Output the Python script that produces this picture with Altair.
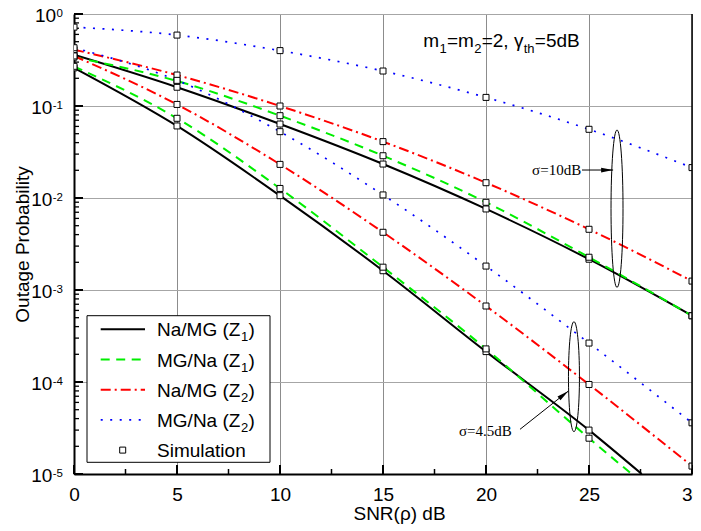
import altair as alt
import pandas as pd

# ---------------- values ----------------
SNR = [0, 5, 10, 15, 20, 25, 30]
SNR_NAMG_Z1_S45 = [0, 5, 10, 15, 20, 25, 27.56]
SNR_MGNA_Z1_S45 = [0, 5, 10, 15, 20, 25, 27.07]

# sigma = 10 dB
NAMG_Z1_S10 = [0.36, 0.16, 0.0637, 0.0234, 0.0076, 0.00216, 0.000525]
MGNA_Z1_S10 = [0.34, 0.187, 0.0785, 0.0288, 0.00898, 0.00227, 0.000525]
NAMG_Z2_S10 = [0.41, 0.217, 0.100, 0.041, 0.01466, 0.00457, 0.00125]
MGNA_Z2_S10 = [0.72, 0.59, 0.40, 0.24, 0.124, 0.0558, 0.0214]
# sigma = 4.5 dB
NAMG_Z1_S45 = [0.26, 0.0607, 0.0106, 0.00162, 0.000214, 3.0e-5, 1.0e-5]
MGNA_Z1_S45 = [0.27, 0.0735, 0.0127, 0.00177, 0.000229, 2.45e-5, 1.0e-5]
NAMG_Z2_S45 = [0.35, 0.104, 0.0232, 0.00424, 0.00067, 9.4e-5, 1.22e-5]
MGNA_Z2_S45 = [0.43, 0.19, 0.0526, 0.0108, 0.00182, 0.000265, 3.6e-5]

LEGEND_TEXT = ["Na/MG (Z", "MG/Na (Z", "Na/MG (Z", "MG/Na (Z"]
LEGEND_SUB = ["1", "1", "2", "2"]
SIM_LABEL = "Simulation"
X_TICKS = [0, 5, 10, 15, 20, 25, 30]
X_MINOR = [2.5, 7.5, 12.5, 17.5, 22.5, 27.5]
Y_EXP = [0, -1, -2, -3, -4, -5]
X_TITLE = "SNR(ρ) dB"
Y_TITLE = "Outage Probability"
NOTE_SEGMENTS = [("m", "main"), ("1", "sub"), ("=m", "main"), ("2", "sub"),
                 ("=2, γ", "main"), ("th", "sub"), ("=5dB", "main")]
SIGMA10_LABEL = "σ=10dB"
SIGMA45_LABEL = "σ=4.5dB"

# ---------------- layout / style ----------------
W, H = 618, 460
FONT = "Arial, Liberation Sans, sans-serif"
SERIF = "Times New Roman, Liberation Serif, serif"
STYLES = [
    dict(color="black", width=2.0),
    dict(color="#00ee00", width=2.0, dash=[9, 6.5]),
    dict(color="#ff0000", width=2.0, dash=[10, 4, 2, 4]),
    dict(color="#0000ff", width=1.7, dash=[2, 7.5]),
]

AW = {' ': 278, '(': 333, ')': 333, ',': 278, '-': 333, '/': 278, '=': 584,
      'B': 667, 'G': 778, 'M': 833, 'N': 722, 'Z': 611, 'a': 556, 'd': 556,
      'h': 556, 'm': 833, 't': 278, 'γ': 500}


def tw(s, size):
    return sum(AW.get(c, 556) for c in s) / 1000.0 * size


xscale = alt.Scale(domain=[0, 30], nice=False, zero=False)
yscale = alt.Scale(type="log", domain=[1e-5, 1], nice=False)

xaxis = alt.Axis(values=X_TICKS, grid=True, gridColor="#8c8c8c", gridWidth=1,
                 ticks=False, domainColor="black", domainWidth=2,
                 labelFont=FONT, labelFontSize=19, labelColor="black",
                 labelPadding=11, labelFlush=False, labelOverlap=False,
                 title=X_TITLE, titleFont=FONT, titleFontSize=19,
                 titleFontWeight="normal", titleColor="black",
                 titleX=325, titleY=45.5, titleBaseline="alphabetic", titleAlign="center")
yaxis = alt.Axis(values=[10.0 ** e for e in Y_EXP], grid=True, gridColor="#a6a6a6",
                 gridWidth=1, ticks=False, labels=False, domainColor="black",
                 domainWidth=2, title=Y_TITLE, titleFont=FONT, titleFontSize=19,
                 titleFontWeight="normal", titleColor="black", titleX=-46, titleY=230,
                 titleAngle=270, titleBaseline="alphabetic", titleAlign="center")


def X(f="x"):
    return alt.X(f"{f}:Q", scale=xscale, axis=xaxis)


def Y(f="p"):
    return alt.Y(f"{f}:Q", scale=yscale, axis=yaxis)


curves = [
    (0, "10", SNR, NAMG_Z1_S10), (0, "4.5", SNR_NAMG_Z1_S45, NAMG_Z1_S45),
    (1, "10", SNR, MGNA_Z1_S10), (1, "4.5", SNR_MGNA_Z1_S45, MGNA_Z1_S45),
    (2, "10", SNR, NAMG_Z2_S10), (2, "4.5", SNR, NAMG_Z2_S45),
    (3, "10", SNR, MGNA_Z2_S10), (3, "4.5", SNR, MGNA_Z2_S45),
]

layers = []

# inward ticks
layers.append(alt.Chart(pd.DataFrame({"x": X_TICKS})).mark_rule(color="black", strokeWidth=2)
              .encode(x=X(), y=alt.value(H), y2=alt.value(H - 9)))
layers.append(alt.Chart(pd.DataFrame({"x": X_MINOR})).mark_rule(color="black", strokeWidth=1.5)
              .encode(x=X(), y=alt.value(H), y2=alt.value(H - 5)))
layers.append(alt.Chart(pd.DataFrame({"p": [10.0 ** e for e in Y_EXP]})).mark_rule(color="black", strokeWidth=2)
              .encode(y=Y(), x=alt.value(0), x2=alt.value(9)))
ymin = [k * 10.0 ** e for e in Y_EXP[1:] for k in range(2, 10)]
layers.append(alt.Chart(pd.DataFrame({"p": ymin})).mark_rule(color="black", strokeWidth=1.3)
              .encode(y=Y(), x=alt.value(0), x2=alt.value(5)))

# curves
for si, st in enumerate(STYLES):
    rows = []
    for (s, sig, xs, ps) in curves:
        if s == si:
            rows += [{"x": a, "p": b, "sigma": sig} for a, b in zip(xs, ps)]
    kw = dict(color=st["color"], strokeWidth=st["width"], interpolate="monotone", clip=True)
    if "dash" in st:
        kw["strokeDash"] = st["dash"]
    layers.append(alt.Chart(pd.DataFrame(rows)).mark_line(**kw)
                  .encode(x=X(), y=Y(), detail="sigma:N", order="x:Q"))

# simulation squares
sim = []
for (s, sig, xs, ps) in curves:
    for a, b in zip(xs, ps):
        if a in SNR and b >= 1e-5:
            sim.append({"x": a, "p": b})
layers.append(alt.Chart(pd.DataFrame(sim)).mark_point(shape="square", size=36, filled=True,
                                                      fill="white", stroke="black", strokeWidth=1,
                                                      opacity=1, clip=True)
              .encode(x=X(), y=Y()))

# right border
layers.append(alt.Chart(pd.DataFrame({"a": [0]})).mark_rule(color="black", strokeWidth=1.5)
              .encode(x=alt.value(W), y=alt.value(0), y2=alt.value(H)))

# y tick labels 10^e
ylab = []
for e in Y_EXP:
    es = str(e)
    ew = tw(es, 11.5)
    ylab.append({"p": 10.0 ** e, "base": "10", "exp": es, "bx": -11 - ew - 0.5, "ex": -11})
ydf = pd.DataFrame(ylab)
layers.append(alt.Chart(ydf).mark_text(align="right", baseline="alphabetic", font=FONT,
                                       fontSize=19, dy=7.8, color="black")
              .encode(x=alt.X("bx:Q", scale=None, axis=None), y=Y(), text="base:N"))
layers.append(alt.Chart(ydf).mark_text(align="right", baseline="alphabetic", font=FONT,
                                       fontSize=11.5, dy=2.6, color="black")
              .encode(x=alt.X("ex:Q", scale=None, axis=None), y=Y(), text="exp:N"))

# legend
LX0, LX1, LY0, LY1 = 13, 196, 301.7, 448.3
layers.append(alt.Chart(pd.DataFrame({"a": [0]})).mark_rect(fill="white", stroke="black", strokeWidth=1)
              .encode(x=alt.value(LX0), x2=alt.value(LX1), y=alt.value(LY0), y2=alt.value(LY1)))
row0, step = 315.3, 30.2
for i, st in enumerate(STYLES):
    cy = row0 + i * step
    kw = dict(color=st["color"], strokeWidth=st["width"])
    if "dash" in st:
        kw["strokeDash"] = st["dash"]
    layers.append(alt.Chart(pd.DataFrame({"a": [0]})).mark_rule(**kw)
                  .encode(x=alt.value(26.7), x2=alt.value(71), y=alt.value(cy)))
    tx = 83
    layers.append(alt.Chart(pd.DataFrame({"t": [LEGEND_TEXT[i]]})).mark_text(
        align="left", baseline="alphabetic", font=FONT, fontSize=19, color="black")
        .encode(x=alt.value(tx), y=alt.value(cy + 7), text="t:N"))
    sx = tx + tw(LEGEND_TEXT[i], 19) + 0.5
    layers.append(alt.Chart(pd.DataFrame({"t": [LEGEND_SUB[i]]})).mark_text(
        align="left", baseline="alphabetic", font=FONT, fontSize=13, color="black")
        .encode(x=alt.value(sx), y=alt.value(cy + 12), text="t:N"))
    layers.append(alt.Chart(pd.DataFrame({"t": [")"]})).mark_text(
        align="left", baseline="alphabetic", font=FONT, fontSize=19, color="black")
        .encode(x=alt.value(sx + tw(LEGEND_SUB[i], 13) + 0.5), y=alt.value(cy + 7), text="t:N"))
cy = row0 + 4 * step
layers.append(alt.Chart(pd.DataFrame({"a": [0]})).mark_point(shape="square", size=36, filled=True,
                                                             fill="white", stroke="black",
                                                             strokeWidth=1, opacity=1)
              .encode(x=alt.value(48.7), y=alt.value(cy)))
layers.append(alt.Chart(pd.DataFrame({"t": [SIM_LABEL]})).mark_text(
    align="left", baseline="alphabetic", font=FONT, fontSize=19, color="black")
    .encode(x=alt.value(83), y=alt.value(cy + 7), text="t:N"))

# parameter note (m1=m2=2, gamma_th=5dB)
nx = 349.3
for seg, kind in NOTE_SEGMENTS:
    size = 19 if kind == "main" else 13
    by = 32.5 if kind == "main" else 39
    layers.append(alt.Chart(pd.DataFrame({"t": [seg]})).mark_text(
        align="left", baseline="alphabetic", font=FONT, fontSize=size, color="black")
        .encode(x=alt.value(nx), y=alt.value(by), text="t:N"))
    nx += tw(seg, size) + 0.3


# sigma annotations (ellipses + arrows), placed in data units
def ellipse_path(r):
    k = 0.5523
    return (f"M0,-1 C{k*r:.4f},-1 {r:.4f},{-k:.4f} {r:.4f},0 "
            f"C{r:.4f},{k:.4f} {k*r:.4f},1 0,1 "
            f"C{-k*r:.4f},1 {-r:.4f},{k:.4f} {-r:.4f},0 "
            f"C{-r:.4f},{-k:.4f} {-k*r:.4f},-1 0,-1 Z")


ARROW = "M0,0 L-2,-0.4 L-2,0.4 Z"

ell = [
    dict(x=26.36, p=0.00765, ry=78.7, rx=6.0),
    dict(x=24.27, p=1.142e-4, ry=55.0, rx=5.5),
]
for e in ell:
    layers.append(alt.Chart(pd.DataFrame({"x": [e["x"]], "p": [e["p"]]})).mark_point(
        shape=ellipse_path(e["rx"] / e["ry"]), size=(2 * e["ry"]) ** 2, filled=False,
        stroke="black", strokeWidth=1, opacity=1)
        .encode(x=X(), y=Y()))

arrows = [
    dict(x=24.66, p=0.02014, x2=26.17, p2=0.02014, angle=0),
    dict(x=21.65, p=3.06e-5, x2=24.0, p2=7.98e-5, angle=321.6),
]
for a in arrows:
    layers.append(alt.Chart(pd.DataFrame([a])).mark_rule(color="black", strokeWidth=1)
                  .encode(x=X(), y=Y(), x2="x2:Q", y2="p2:Q"))
    layers.append(alt.Chart(pd.DataFrame({"x": [a["x2"]], "p": [a["p2"]]})).mark_point(
        shape=ARROW, size=144, filled=True, color="black", opacity=1, angle=a["angle"])
        .encode(x=X(), y=Y()))

layers.append(alt.Chart(pd.DataFrame({"x": [24.62], "p": [0.02014], "t": [SIGMA10_LABEL]})).mark_text(
    align="right", baseline="middle", font=SERIF, fontSize=15, color="black")
    .encode(x=X(), y=Y(), text="t:N"))
layers.append(alt.Chart(pd.DataFrame({"x": [21.25], "p": [2.93e-5], "t": [SIGMA45_LABEL]})).mark_text(
    align="right", baseline="middle", font=SERIF, fontSize=15, color="black")
    .encode(x=X(), y=Y(), text="t:N"))

chart = alt.layer(*layers).properties(
    width=W, height=H,
    autosize=alt.AutoSizeParams(type="none"),
    padding={"left": 66, "top": 6, "right": 1, "bottom": 50},
    background="white",
).configure_view(stroke="#808080", strokeWidth=1)

chart.save("out.html", embed_options={"renderer": "svg", "actions": False})
